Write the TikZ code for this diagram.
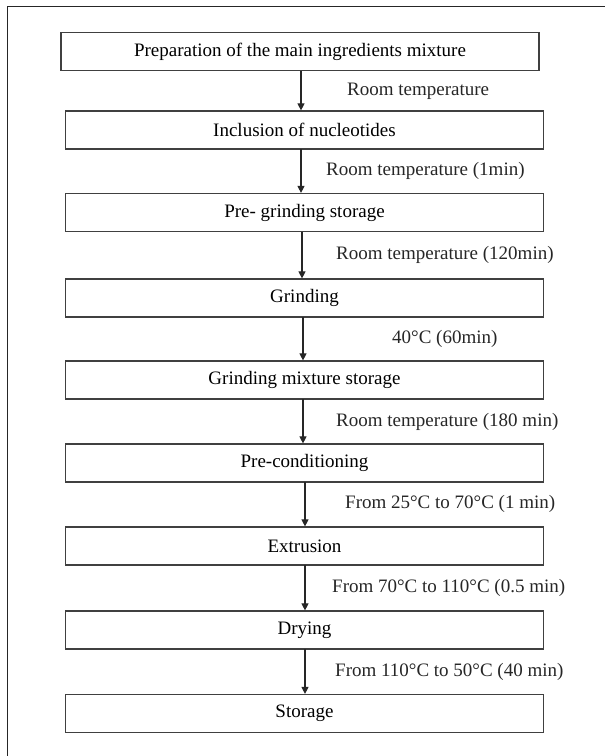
\documentclass[tikz,border=0pt]{standalone}
\usepackage{fontspec}
\setmainfont{Liberation Serif}
\usetikzlibrary{arrows.meta}

\begin{document}
\begin{tikzpicture}[x=1pt,y=-1pt]
\tikzstyle{every node}+=[inner sep=0pt]
\tikzstyle{stepbox}=[draw=black!75, line width=1.2pt, minimum width=478pt, minimum height=38pt, font=\fontsize{19}{23}\selectfont]
\tikzstyle{lbl}=[anchor=west, font=\fontsize{19}{23}\selectfont, text=black!85]
\tikzstyle{arr}=[draw=black!85, line width=1.1pt, -{Triangle[length=7pt,width=7pt]}]
\useasboundingbox (0,0) rectangle (605,756);
\draw[black!85, line width=1pt] (7,760) -- (7,6) -- (610,6);

\node[stepbox] (prep) at (300,51.5) {Preparation of the main ingredients mixture};
\node[stepbox] (incl) at (304.5,130) {Inclusion of nucleotides};
\node[stepbox] (pregr) at (304.5,212.5) {Pre- grinding storage};
\node[stepbox] (grind) at (304.5,298) {Grinding};
\node[stepbox] (mixst) at (304.5,380) {Grinding mixture storage};
\node[stepbox] (precond) at (304.5,463) {Pre-conditioning};
\node[stepbox] (extr) at (304.5,546) {Extrusion};
\node[stepbox] (dry) at (304.5,630) {Drying};
\node[stepbox] (stor) at (304.5,713.5) {Storage};

\draw[arr] (301,71) coordinate (a1) -- (a1 |- incl.north);
\draw[arr] (301,149) coordinate (a2) -- (a2 |- pregr.north);
\draw[arr] (302,231.5) coordinate (a3) -- (a3 |- grind.north);
\draw[arr] (303,317) coordinate (a4) -- (a4 |- mixst.north);
\draw[arr] (303,399) coordinate (a5) -- (a5 |- precond.north);
\draw[arr] (305,482) coordinate (a6) -- (a6 |- extr.north);
\draw[arr] (305,565) coordinate (a7) -- (a7 |- dry.north);
\draw[arr] (305,649) coordinate (a8) -- (a8 |- stor.north);

\node[lbl] (t1) at (347,91) {Room temperature};
\node[lbl] (t2) at (326,171) {Room temperature (1min)};
\node[lbl] (t3) at (336,255) {Room temperature (120min)};
\node[lbl] (t4) at (392,339) {40°C (60min)};
\node[lbl] (t5) at (336,422) {Room temperature (180 min)};
\node[lbl] (t6) at (345,504) {From 25°C to 70°C (1 min)};
\node[lbl] (t7) at (332,588) {From 70°C to 110°C (0.5 min)};
\node[lbl] (t8) at (335,672) {From 110°C to 50°C (40 min)};

\end{tikzpicture}
\end{document}
